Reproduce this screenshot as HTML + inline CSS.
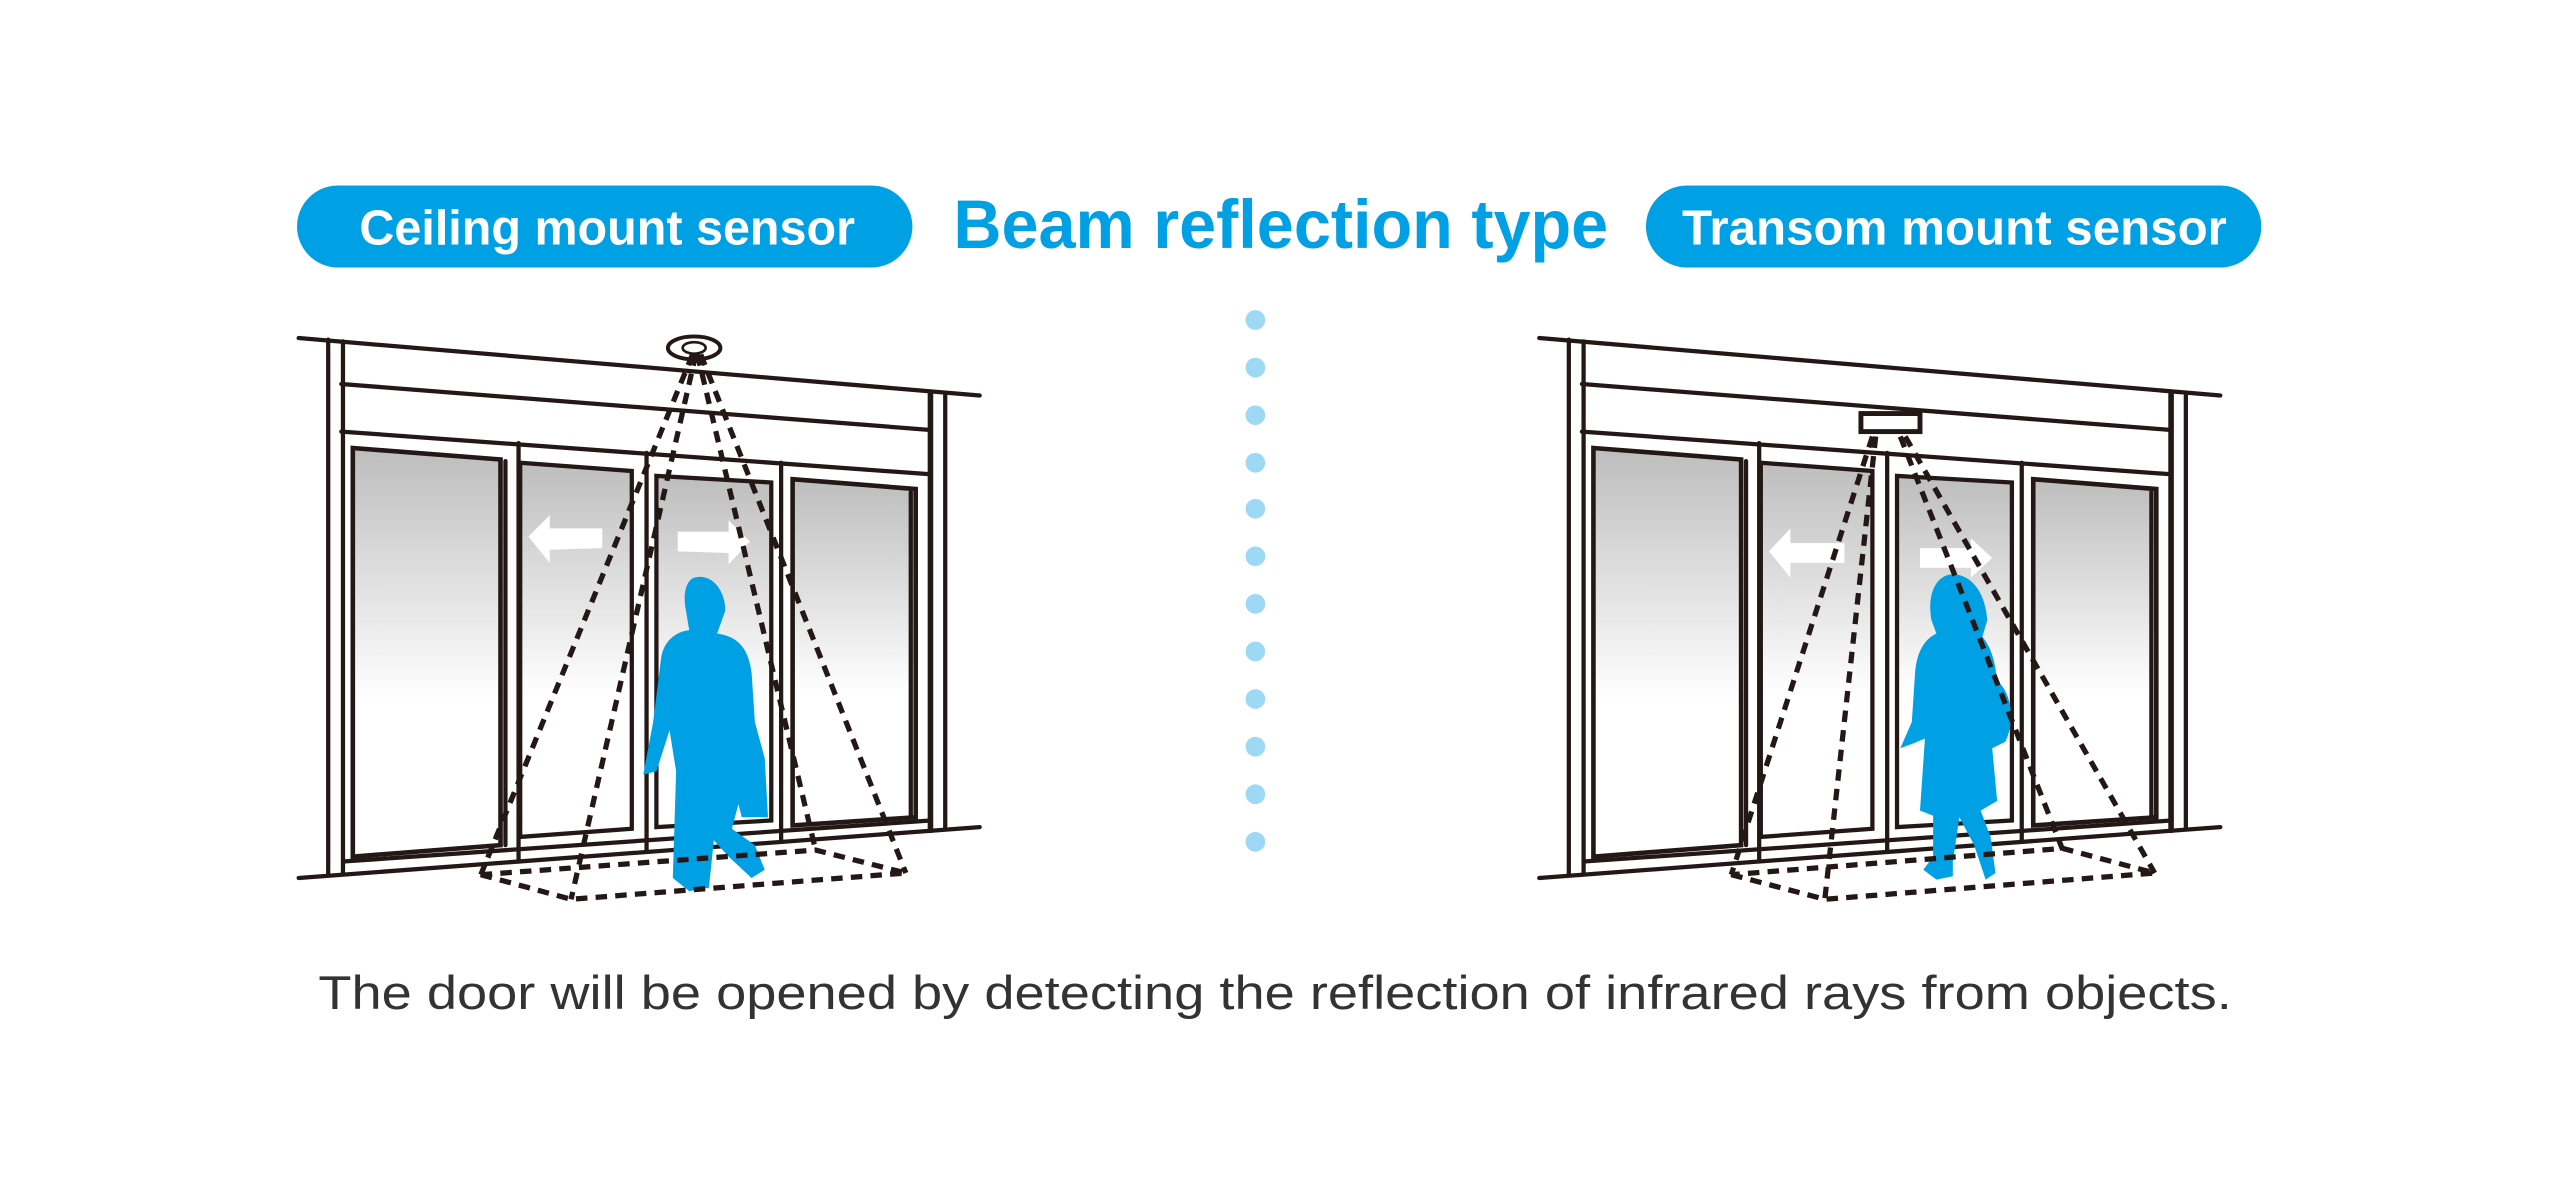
<!DOCTYPE html>
<html><head><meta charset="utf-8"><style>
html,body{margin:0;padding:0;background:#fff;}
svg{display:block;}
</style></head><body>
<svg width="2560" height="1180" viewBox="0 0 1560 719.06" xmlns="http://www.w3.org/2000/svg" font-family="Liberation Sans, sans-serif">
<defs>
<linearGradient id="g" x1="0" y1="0" x2="0" y2="1">
<stop offset="0" stop-color="#bdbdbd"/><stop offset="0.62" stop-color="#ffffff"/><stop offset="1" stop-color="#ffffff"/>
</linearGradient>
</defs>
<rect x="181" y="113" width="375" height="50" rx="25" fill="#00a0e4"/>
<text x="370" y="149" text-anchor="middle" font-size="30" font-weight="bold" fill="#fff" textLength="302" lengthAdjust="spacingAndGlyphs">Ceiling mount sensor</text>
<rect x="1003" y="113" width="375" height="50" rx="25" fill="#00a0e4"/>
<text x="1191" y="149" text-anchor="middle" font-size="30" font-weight="bold" fill="#fff" textLength="332" lengthAdjust="spacingAndGlyphs">Transom mount sensor</text>
<text x="581" y="151" font-size="42" font-weight="bold" fill="#00a0e4" textLength="399" lengthAdjust="spacingAndGlyphs">Beam reflection type</text>
<g fill="#9dd9f5">
<circle cx="765" cy="195" r="6"/><circle cx="765" cy="224" r="6"/><circle cx="765" cy="253" r="6"/><circle cx="765" cy="282" r="6"/><circle cx="765" cy="310" r="6"/><circle cx="765" cy="339" r="6"/><circle cx="765" cy="368" r="6"/><circle cx="765" cy="397" r="6"/><circle cx="765" cy="426" r="6"/><circle cx="765" cy="455" r="6"/><circle cx="765" cy="484" r="6"/><circle cx="765" cy="513" r="6"/>
</g>
<text x="194" y="615" font-size="29" fill="#333" textLength="1166" lengthAdjust="spacingAndGlyphs">The door will be opened by detecting the reflection of infrared rays from objects.</text>

<g id="door" stroke="#231815" stroke-width="2.6" fill="none" stroke-linecap="round">
<polygon points="215,273 305,280 305,515 215,522" fill="url(#g)" stroke-width="2.8"/>
<polygon points="317,282 385,287 385,505 317,510" fill="url(#g)"/>
<polygon points="400,290 470,294 470,500 400,504" fill="url(#g)"/>
<polygon points="483,292 558,298 558,498 483,503" fill="url(#g)" stroke-width="2.8"/>
<line x1="308" y1="281" x2="308" y2="515"/>
<line x1="555" y1="300" x2="555" y2="498"/>
<line x1="316" y1="270" x2="316" y2="525"/>
<line x1="394" y1="276" x2="394" y2="518"/>
<line x1="476" y1="282" x2="476" y2="512"/>
<line x1="182" y1="206" x2="597" y2="241"/>
<line x1="200" y1="207" x2="200" y2="533"/>
<line x1="209" y1="208" x2="209" y2="532"/>
<line x1="208" y1="234" x2="567" y2="262"/>
<line x1="208" y1="263" x2="567" y2="289"/>
<line x1="567" y1="240" x2="567" y2="506" stroke-width="3.4"/>
<line x1="576" y1="241" x2="576" y2="505"/>
<line x1="182" y1="535" x2="597" y2="504"/>
<line x1="209" y1="525" x2="567" y2="500"/>
</g>
<g fill="#fff">
<polygon points="322,327 335,314 335,322 367,322 367,334 335,335 335,343"/>
<polygon points="457,330 444,317 444,324 413,324 413,336 444,337 444,344"/>
</g>
<g fill="none" stroke="#231815">
<ellipse cx="423" cy="212" rx="16" ry="7" stroke-width="2.4"/>
<ellipse cx="423" cy="212" rx="7" ry="3.5" stroke-width="1.6"/>
</g>
<path fill="#00a0e4" d="M423,352 C434,349 442,360 442,372 L437,386 C450,388 456,395 458,410 L460,440 L466,462 L468,498 L452,498 L450,490 L446,505 L460,515 L466,530 L458,535 L444,522 L435,512 L432,541 L420,543 L410,535 L412,470 L408,445 L400,470 L392,472 L398,440 L403,400 C405,390 412,385 420,384 L418,372 C416,362 418,354 423,352 Z"/>
<g fill="none" stroke="#231815" stroke-width="3.2" stroke-dasharray="7,5">
<line x1="422" y1="216" x2="293" y2="533"/>
<line x1="424" y1="216" x2="348" y2="548"/>
<line x1="425" y1="216" x2="497" y2="518"/>
<line x1="427" y1="216" x2="552" y2="532"/>
<polygon points="293,533 348,548 552,532 497,518"/>
</g>

<use href="#door" transform="translate(756,0)"/>
<g fill="#fff">
<polygon points="1078,336 1091,322 1091,331 1124,331 1124,343 1091,343 1091,352"/>
<polygon points="1214,340 1201,328 1201,334 1170,334 1170,346 1201,346 1201,352"/>
</g>
<rect x="1134" y="252" width="36" height="11" fill="none" stroke="#231815" stroke-width="3"/>
<path fill="#00a0e4" d="M1190,350 C1202,350 1210,362 1211,378 L1208,388 C1214,395 1216,405 1217,415 C1226,422 1228,440 1222,452 L1214,456 L1217,488 L1207,494 L1213,510 L1216,532 L1210,536 L1203,515 L1194,498 L1190,525 L1190,534 L1180,536 L1172,530 L1178,522 L1178,497 L1170,494 L1173,450 L1166,453 L1158,456 L1165,440 L1167,410 C1168,398 1172,390 1180,386 L1177,378 C1174,362 1180,350 1190,350 Z"/>
<g fill="none" stroke="#231815" stroke-width="3.2" stroke-dasharray="7,5">
<line x1="1141" y1="266" x2="1055" y2="533"/>
<line x1="1143" y1="266" x2="1112" y2="548"/>
<line x1="1158" y1="266" x2="1257" y2="518"/>
<line x1="1161" y1="266" x2="1313" y2="532"/>
<polygon points="1055,533 1112,548 1313,532 1257,517"/>
</g>
</svg>
</body></html>
